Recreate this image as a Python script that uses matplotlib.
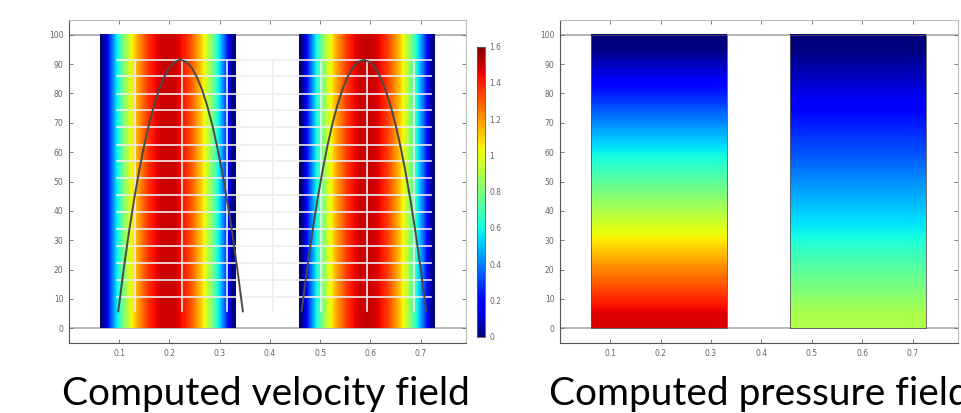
import numpy as np
import matplotlib
matplotlib.use("Agg")
import matplotlib.pyplot as plt

# -----------------------
# Data
# -----------------------
# channel extents (x) in both panels
channels = [(0.062, 0.332), (0.457, 0.727)]

# velocity across each channel (21 stations, wall to wall)
velocity_profile = [0.0, 0.29, 0.54, 0.77, 0.96, 1.13, 1.26, 1.37, 1.44, 1.49, 1.50,
                    1.49, 1.44, 1.37, 1.26, 1.13, 0.96, 0.77, 0.54, 0.29, 0.0]

# pressure up each channel (y = 0, 10, ..., 100), normalised 0..1
pressure_left = [0.92, 0.83, 0.74, 0.64, 0.55, 0.46, 0.37, 0.28, 0.18, 0.09, 0.0]
pressure_right = [0.56, 0.50, 0.44, 0.37, 0.32, 0.265, 0.21, 0.16, 0.11, 0.05, 0.0]

# overlaid velocity line graphs (x, y)
curve_left_x = [0.098, 0.11, 0.12, 0.13, 0.14, 0.15, 0.16, 0.17, 0.18, 0.19, 0.20, 0.21, 0.222,
                0.235, 0.245, 0.255, 0.265, 0.275, 0.285, 0.295, 0.305, 0.315, 0.325, 0.335, 0.346]
curve_left_y = [5.8, 21.6, 33.5, 44.3, 54.0, 62.6, 70.1, 76.4, 81.7, 85.8, 88.8, 90.7, 91.5,
                90.6, 88.6, 85.4, 81.2, 75.8, 69.4, 61.8, 53.1, 43.3, 32.4, 20.3, 5.8]
curve_right_x = [0.463, 0.475, 0.485, 0.495, 0.505, 0.515, 0.525, 0.535, 0.545, 0.555, 0.565, 0.575, 0.587,
                 0.600, 0.610, 0.620, 0.630, 0.640, 0.650, 0.660, 0.670, 0.680, 0.690, 0.700, 0.711]
curve_right_y = [5.8, 21.6, 33.5, 44.3, 54.0, 62.6, 70.1, 76.4, 81.7, 85.8, 88.8, 90.7, 91.5,
                 90.6, 88.6, 85.4, 81.2, 75.8, 69.4, 61.8, 53.1, 43.3, 32.4, 20.3, 5.8]

# grid of the overlaid graph
grid_y = [10.6, 16.4, 22.3, 28.0, 33.7, 39.7, 45.3, 51.3, 56.9, 62.6, 68.6, 74.2, 79.9, 85.8, 91.5]
grid_x = [0.131, 0.224, 0.315, 0.407, 0.502, 0.594, 0.686]

xticks = [0.1, 0.2, 0.3, 0.4, 0.5, 0.6, 0.7]
yticks = [0, 10, 20, 30, 40, 50, 60, 70, 80, 90, 100]
cbar_ticks = [0, 0.2, 0.4, 0.6, 0.8, 1.0, 1.2, 1.4, 1.6]
cbar_labels = ["0", "0.2", "0.4", "0.6", "0.8", "1", "1.2", "1.4", "1.6"]

fig = plt.figure(figsize=(9.61, 4.13), dpi=100)
ax1 = fig.add_axes([0.0718, 0.1695, 0.413, 0.782])
ax2 = fig.add_axes([0.5827, 0.1695, 0.414, 0.782])
cax = fig.add_axes([0.496, 0.185, 0.0086, 0.702])


def style_axes(ax):
    ax.set_xlim(0, 0.79)
    ax.set_ylim(-5, 105)
    ax.set_xticks(xticks)
    ax.set_yticks(yticks)
    ax.set_xticklabels([str(t) for t in xticks])
    ax.tick_params(direction="in", length=3, width=0.6, labelsize=5.5,
                   colors="#666666", top=True, right=True, pad=4)
    ax.tick_params(labeltop=False, labelright=False)
    for s in ["left", "bottom"]:
        ax.spines[s].set_color("#555555")
        ax.spines[s].set_linewidth(0.8)
    for s in ["top", "right"]:
        ax.spines[s].set_color("#bbbbbb")
        ax.spines[s].set_linewidth(0.8)
    ax.axhline(0, color="#aaaaaa", lw=1.2, zorder=1)
    ax.axhline(100, color="#aaaaaa", lw=1.2, zorder=1)


# -----------------------
# Velocity panel
# -----------------------
for x0, x1 in channels:
    im = ax1.imshow(np.array([velocity_profile]), cmap="jet", vmin=0, vmax=1.6,
                    extent=[x0, x1, 0, 100], aspect="auto",
                    interpolation="bilinear", origin="lower", zorder=2)

for gy in grid_y:
    ax1.plot([0.096, 0.72], [gy, gy], color="#eeeeee", lw=1.2, zorder=3)
for gx in grid_x:
    ax1.plot([gx, gx], [5.8, 91.5], color="#eeeeee", lw=1.2, zorder=3)

ax1.plot(curve_left_x, curve_left_y, color="#4a4a4a", lw=1.4, zorder=4)
ax1.plot(curve_right_x, curve_right_y, color="#4a4a4a", lw=1.4, zorder=4)
style_axes(ax1)

cb = fig.colorbar(im, cax=cax, ticks=cbar_ticks)
cb.ax.set_yticklabels(cbar_labels)
cb.ax.tick_params(labelsize=5.5, colors="#666666", length=0, pad=3)
cb.outline.set_edgecolor("#555555")
cb.outline.set_linewidth(0.6)

# -----------------------
# Pressure panel
# -----------------------
for (x0, x1), prof in zip(channels, [pressure_left, pressure_right]):
    ax2.imshow(np.array(prof).reshape(-1, 1), cmap="jet", vmin=0, vmax=1,
               extent=[x0, x1, 0, 100], aspect="auto",
               interpolation="bilinear", origin="lower", zorder=2)
    ax2.plot([x0, x1, x1, x0, x0], [0, 0, 100, 100, 0], color="#555555", lw=0.6, zorder=3)
style_axes(ax2)

# captions (the right one runs off the edge, as in the source image)
fig.text(0.277, 0.045, "Computed velocity field", ha="center", va="center",
         fontsize=28, family="Lato")
fig.text(0.571, 0.045, "Computed pressure field", ha="left", va="center",
         fontsize=28, family="Lato")

fig.savefig("out.png", dpi=100)
